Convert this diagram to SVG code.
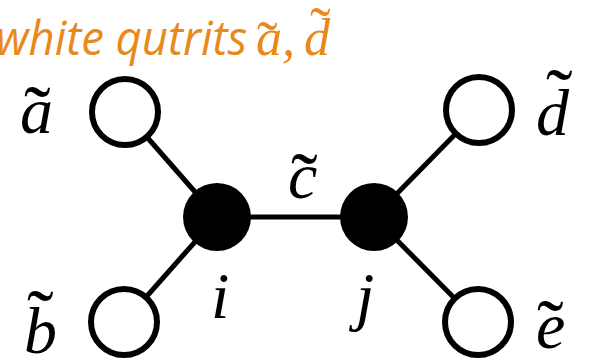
<svg xmlns="http://www.w3.org/2000/svg" width="592" height="361" viewBox="0 0 592 361">
<style>
.edge{stroke:#000;stroke-width:5;fill:none}
.white{fill:#fff;stroke:#000;stroke-width:6}
.black{fill:#000;stroke:none}
</style>
<rect width="592" height="361" fill="#fff"/>
<g id="title">
<text font-family="Open Sans, Liberation Sans, sans-serif" font-style="italic" font-size="48" fill="#E8891C" x="-4" y="55" textLength="251" lengthAdjust="spacingAndGlyphs">white qutrits</text>
<text font-family="Liberation Serif" font-style="italic" font-size="52" fill="#E8891C" x="256" y="55">a,</text>
<text font-family="Liberation Serif" font-size="62" fill="#E8891C" x="257" y="64">&#x2DC;</text>
<text font-family="Liberation Serif" font-style="italic" font-size="52" fill="#E8891C" x="304" y="55">d</text>
<text font-family="Liberation Serif" font-size="62" fill="#E8891C" x="310" y="50">&#x2DC;</text>
</g>
<g id="connectors">
<line class="edge" x1="125" y1="112" x2="217" y2="217"/>
<line class="edge" x1="124" y1="322" x2="217" y2="217"/>
<line class="edge" x1="217" y1="217" x2="374" y2="217"/>
<line class="edge" x1="374" y1="217" x2="479" y2="110"/>
<line class="edge" x1="374" y1="217" x2="478" y2="322"/>
</g>
<g id="node-a"><circle class="white" cx="125" cy="112" r="33"/>
<text font-family="Liberation Serif" font-style="italic" font-size="66" x="20" y="133">a</text>
<text font-family="Liberation Serif" font-size="80" x="24" y="141">&#x2DC;</text></g>
<g id="node-b"><circle class="white" cx="124" cy="322" r="33"/>
<text font-family="Liberation Serif" font-style="italic" font-size="66" x="24" y="353">b</text>
<text font-family="Liberation Serif" font-size="80" x="27" y="345">&#x2DC;</text></g>
<g id="node-i"><circle class="black" cx="217" cy="217" r="34"/>
<text font-family="Liberation Serif" font-style="italic" font-size="66" x="211" y="318">i</text></g>
<g id="edge-c">
<text font-family="Liberation Serif" font-style="italic" font-size="66" x="288" y="198">c</text>
<text font-family="Liberation Serif" font-size="80" x="291" y="208">&#x2DC;</text></g>
<g id="node-j"><circle class="black" cx="374" cy="217" r="34"/>
<text font-family="Liberation Serif" font-style="italic" font-size="66" x="356" y="318">j</text></g>
<g id="node-d"><circle class="white" cx="479" cy="110" r="33"/>
<text font-family="Liberation Serif" font-style="italic" font-size="66" x="536" y="135">d</text>
<text font-family="Liberation Serif" font-size="80" x="546" y="124">&#x2DC;</text></g>
<g id="node-e"><circle class="white" cx="478" cy="322" r="33"/>
<text font-family="Liberation Serif" font-style="italic" font-size="66" x="536" y="348">e</text>
<text font-family="Liberation Serif" font-size="80" x="537" y="355">&#x2DC;</text></g>
</svg>
